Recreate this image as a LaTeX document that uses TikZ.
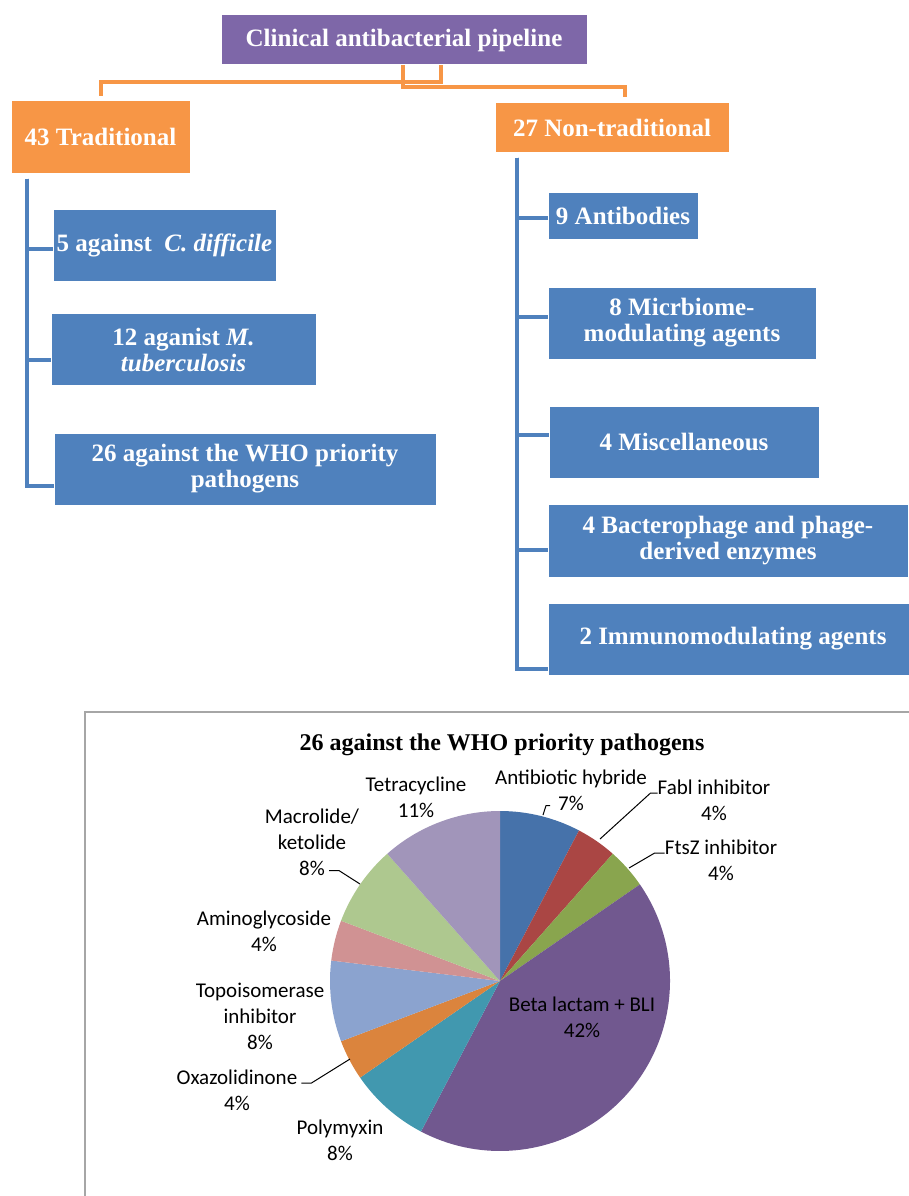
\documentclass[tikz,border=0pt]{standalone}
\usepackage{fontspec}
\setmainfont{Liberation Serif}
\newfontfamily\chartfont{Carlito}

\definecolor{rootpurple}{HTML}{7E67A8}
\definecolor{catorange}{HTML}{F79646}
\definecolor{leafblue}{HTML}{4F81BD}
\definecolor{pieA}{HTML}{4672AA}
\definecolor{pieB}{HTML}{AA4644}
\definecolor{pieC}{HTML}{89A54E}
\definecolor{pieD}{HTML}{71588F}
\definecolor{pieE}{HTML}{4198AF}
\definecolor{pieF}{HTML}{DB843D}
\definecolor{pieG}{HTML}{8BA3CF}
\definecolor{pieH}{HTML}{D09293}
\definecolor{pieI}{HTML}{AEC88F}
\definecolor{pieJ}{HTML}{A195BA}

\tikzset{
    boxtext/.style={text=white, font=\fontsize{25}{26}\selectfont\bfseries,
        align=center, inner sep=0pt, draw=white, line width=1pt},
    rootbox/.style={boxtext, fill=rootpurple},
    catbox/.style={boxtext, fill=catorange},
    leafbox/.style={boxtext, fill=leafblue, minimum height=72pt},
    oline/.style={catorange, line width=4pt},
    bline/.style={leafblue, line width=4pt},
    pielabel/.style={font=\chartfont\fontsize{21}{26}\selectfont, align=center, inner sep=0pt},
    leader/.style={black, line width=1pt}
}

\begin{document}
\begin{tikzpicture}[x=1pt, y=-1pt]
    \useasboundingbox (0,0) rectangle (908,1196);

    % hierarchy
    \node[rootbox, minimum width=366pt, minimum height=50pt] (root) at (404,40)
        {Clinical antibacterial pipeline};
    \node[catbox, minimum width=179pt, minimum height=72pt] (trad) at (100.5,137)
        {43 Traditional};
    \node[catbox, minimum width=234pt, minimum height=49pt] (nontrad) at (612,127.5)
        {27 Non-traditional};

    \draw[oline] ([xshift=37pt]root.south) -- ++(0,17) -| ([yshift=4pt]trad.north);
    \draw[oline] ([xshift=-1pt]root.south) -- ++(0,22) -| ([xshift=13pt,yshift=5pt]nontrad.north);

    % traditional
    \node[leafbox, minimum width=223pt] (diff) at (164.5,245.5)
        {5 against\ \ \textit{C. difficile}};
    \node[leafbox, minimum width=265pt] (tb) at (183.5,349.5)
        {12 aganist \textit{M.}\\\textit{tuberculosis}};
    \node[leafbox, minimum width=382pt] (who) at (245,469)
        {26 against the WHO priority\\pathogens};

    \coordinate (ltop) at ([xshift=16pt,yshift=-5pt]trad.south west);
    \foreach \n/\s in {diff/-3.5, tb/-10.5, who/-17}
        \draw[bline] (ltop) |- ([yshift=\s pt]\n.west);

    % non-traditional
    \node[leafbox, minimum width=150pt, minimum height=47pt] (ab) at (623,215.5)
        {9 Antibodies};
    \node[leafbox, minimum width=268pt] (micro) at (682,323)
        {8 Micrbiome-\\modulating agents};
    \node[leafbox, minimum width=270pt] (misc) at (684,442)
        {4 Miscellaneous};
    \node[leafbox, minimum width=360pt, minimum height=73pt] (phage) at (728,540.5)
        {4 Bacterophage and phage-\\derived enzymes};
    \node[leafbox, minimum width=370pt] (immuno) at (733,639)
        {2 Immunomodulating agents};

    \coordinate (rtop) at ([xshift=22pt,yshift=-5pt]nontrad.south west);
    \foreach \n/\s in {ab/-2.5, micro/6, misc/7, phage/-9.5, immuno/-30}
        \draw[bline] (rtop) |- ([yshift=\s pt]\n.west);

    % chart frame and title
    \draw[gray!70, line width=1.5pt] (85,1200) |- (912,712);
    \node[font=\fontsize{24}{26}\selectfont\bfseries] (charttitle) at (502,745)
        {26 against the WHO priority pathogens};

    % pie, 26 drugs
    \begin{scope}[shift={(500,981)}, yscale=-1]
        \foreach \a/\b/\c in {90/62.31/pieA, 62.31/48.46/pieB, 48.46/34.62/pieC,
                34.62/-117.69/pieD, -117.69/-145.38/pieE, -145.38/-159.23/pieF,
                -159.23/-186.92/pieG, -186.92/-200.77/pieH, -200.77/-228.46/pieI,
                -228.46/-270/pieJ}
            \fill[\c] (0,0) -- (\a:170) arc (\a:\b:170) -- cycle;
    \end{scope}

    \node[pielabel] (hyb) at (571,790) {Antibiotic hybride\\7\%};
    \node[pielabel] (fabl) at (714,800) {Fabl inhibitor\\4\%};
    \node[pielabel] (ftsz) at (721,860) {FtsZ inhibitor\\4\%};
    \node[pielabel] (beta) at (582,1017) {Beta lactam + BLI\\42\%};
    \node[pielabel] (poly) at (340,1140) {Polymyxin\\8\%};
    \node[pielabel] (oxa) at (237,1090) {Oxazolidinone\\4\%};
    \node[pielabel] (topo) at (260,1016) {Topoisomerase\\inhibitor\\8\%};
    \node[pielabel] (amino) at (264,931) {Aminoglycoside\\4\%};
    \node[pielabel] (macro) at (312,842) {Macrolide/\\ketolide\\8\%};
    \node[pielabel] (tetra) at (416,797) {Tetracycline\\11\%};

    \coordinate (hybend) at (543,815);
    \coordinate (fablend) at (600,839);
    \coordinate (ftszend) at (629,868);
    \coordinate (macroend) at (360,884);
    \coordinate (oxaend) at (350,1059);

    \draw[leader] ([xshift=-21pt,yshift=5pt]hyb.south) -- ++(-4,0) -- (hybend);
    \draw[leader] ([yshift=7pt]fabl.west) -- ++(-7,0) -- (fablend);
    \draw[leader] ([yshift=7pt]ftsz.west) -- ++(-10,0) -- (ftszend);
    \draw[leader] ([xshift=17pt,yshift=5pt]macro.south) -- ++(10,0) -- (macroend);
    \draw[leader] ([xshift=4pt,yshift=7pt]oxa.east) -- ++(10,0) -- (oxaend);
\end{tikzpicture}
\end{document}
